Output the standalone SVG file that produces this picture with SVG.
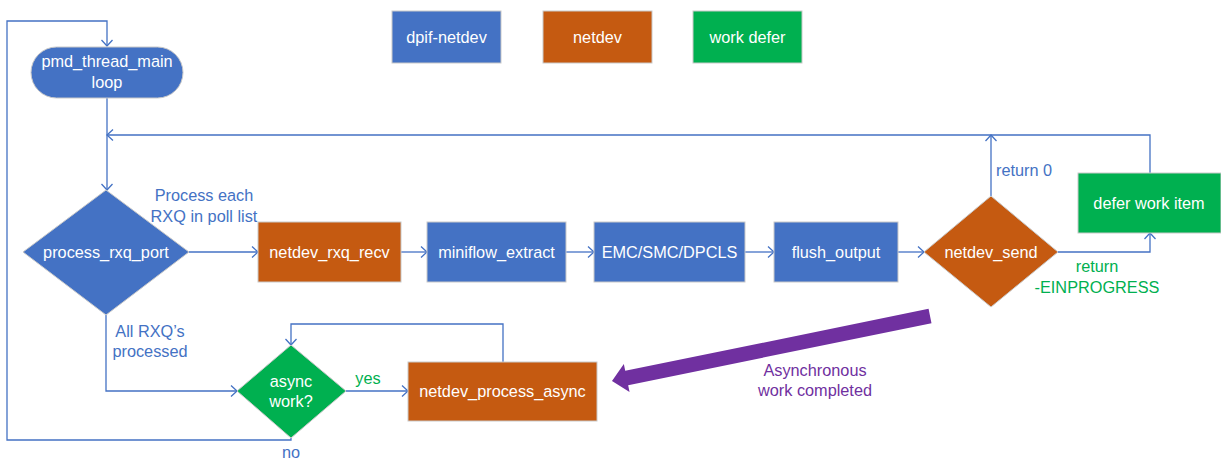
<svg xmlns="http://www.w3.org/2000/svg" width="1221" height="461" viewBox="0 0 1221 461">
  <style>
    text { font-family: "Liberation Sans", Arial, sans-serif; font-size: 16.3px; }
    .lbl { fill: #ffffff; text-anchor: middle; }
    .blue { fill: #4472C4; stroke: #c9c9c9; stroke-width: 1; }
    .orange { fill: #C55A11; stroke: #c9c9c9; stroke-width: 1; }
    .green { fill: #00B050; stroke: #c9c9c9; stroke-width: 1; }
    .conn { fill: none; stroke: #4472C4; stroke-width: 1.3; marker-end: url(#arr); }
    .t-blue { fill: #4472C4; }
    .t-green { fill: #00B050; }
    .t-purple { fill: #7030A0; }
  </style>
  <defs>
    <marker id="arr" markerUnits="userSpaceOnUse" markerWidth="14" markerHeight="14" refX="7" refY="7" orient="auto" viewBox="0 0 14 14">
      <path d="M1,1.5 L7,7 L1,12.5" fill="none" stroke="#4472C4" stroke-width="1.3"/>
    </marker>
  </defs>

  <rect width="1221" height="461" fill="#ffffff"/>

  <!-- legend -->
  <g id="legend-dpif">
    <rect class="blue" x="392" y="11" width="109" height="52"/>
    <text class="lbl" x="446.5" y="43">dpif-netdev</text>
  </g>
  <g id="legend-netdev">
    <rect class="orange" x="543" y="11" width="109" height="52"/>
    <text class="lbl" x="597.5" y="43">netdev</text>
  </g>
  <g id="legend-defer">
    <rect class="green" x="693" y="11" width="109" height="52"/>
    <text class="lbl" x="747.5" y="43">work defer</text>
  </g>

  <!-- connectors -->
  <g id="connectors">
    <path class="conn" d="M291,438 V440 H7 V21 H107 V46"/>
    <path class="conn" d="M107,98 V190"/>
    <path class="conn" d="M1150,173 V135 H107"/>
    <path class="conn" d="M189,252 H258"/>
    <path class="conn" d="M401,252 H427"/>
    <path class="conn" d="M566,252 H594"/>
    <path class="conn" d="M745,252 H774"/>
    <path class="conn" d="M898,252 H924"/>
    <path class="conn" d="M991,196 V135"/>
    <path class="conn" d="M1058,252 H1150 V233"/>
    <path class="conn" d="M106,315 V391 H237"/>
    <path class="conn" d="M346,391 H408"/>
    <path class="conn" d="M503,362 V324 H291 V345"/>
  </g>

  <!-- connector labels -->
  <g id="edge-labels">
    <text class="t-blue" x="204" y="201" text-anchor="middle">Process each</text>
    <text class="t-blue" x="204" y="222" text-anchor="middle">RXQ in poll list</text>
    <text class="t-blue" x="150" y="337" text-anchor="middle">All RXQ’s</text>
    <text class="t-blue" x="150" y="357" text-anchor="middle">processed</text>
    <text class="t-green" x="368" y="384" text-anchor="middle">yes</text>
    <text class="t-blue" x="291" y="458" text-anchor="middle">no</text>
    <text class="t-blue" x="996" y="176">return 0</text>
    <text class="t-green" x="1097" y="272" text-anchor="middle">return</text>
    <text class="t-green" x="1097" y="293" text-anchor="middle">-EINPROGRESS</text>
    <text class="t-purple" x="815" y="376" text-anchor="middle">Asynchronous</text>
    <text class="t-purple" x="815" y="396" text-anchor="middle">work completed</text>
  </g>

  <!-- nodes -->
  <g id="pmd-main-loop">
    <rect class="blue" x="31" y="47" width="152" height="51" rx="25.5"/>
    <text class="lbl" x="107" y="67">pmd_thread_main</text>
    <text class="lbl" x="107" y="88">loop</text>
  </g>
  <g id="process-rxq-port">
    <polygon class="blue" points="106,190 189,252 106,315 23,252"/>
    <text class="lbl" x="106" y="258">process_rxq_port</text>
  </g>
  <g id="netdev-rxq-recv">
    <rect class="orange" x="258" y="222" width="143" height="60"/>
    <text class="lbl" x="329.5" y="258">netdev_rxq_recv</text>
  </g>
  <g id="miniflow-extract">
    <rect class="blue" x="427" y="222" width="139" height="60"/>
    <text class="lbl" x="496.5" y="258">miniflow_extract</text>
  </g>
  <g id="emc-smc-dpcls">
    <rect class="blue" x="594" y="222" width="151" height="60"/>
    <text class="lbl" x="669.5" y="258">EMC/SMC/DPCLS</text>
  </g>
  <g id="flush-output">
    <rect class="blue" x="774" y="222" width="124" height="60"/>
    <text class="lbl" x="836" y="258">flush_output</text>
  </g>
  <g id="netdev-send">
    <polygon class="orange" points="991,196 1058,252 991,307 924,252"/>
    <text class="lbl" x="991" y="258">netdev_send</text>
  </g>
  <g id="defer-work-item">
    <rect class="green" x="1078" y="173" width="143" height="60"/>
    <text class="lbl" x="1149" y="209">defer work item</text>
  </g>
  <g id="async-work">
    <polygon class="green" points="291,345 346,391 291,438 237,391"/>
    <text class="lbl" x="291" y="387">async</text>
    <text class="lbl" x="291" y="407">work?</text>
  </g>
  <g id="netdev-process-async">
    <rect class="orange" x="408" y="362" width="189" height="59"/>
    <text class="lbl" x="502.5" y="397">netdev_process_async</text>
  </g>

  <!-- completion notice: thick block arrow -->
  <g id="async-completed-arrow" transform="translate(612,381) rotate(-11.55)">
    <polygon points="0,0 15,-14.3 15,-7.3 324.6,-7.3 324.6,7.3 15,7.3 15,14.3" fill="#7030A0"/>
  </g>
</svg>
